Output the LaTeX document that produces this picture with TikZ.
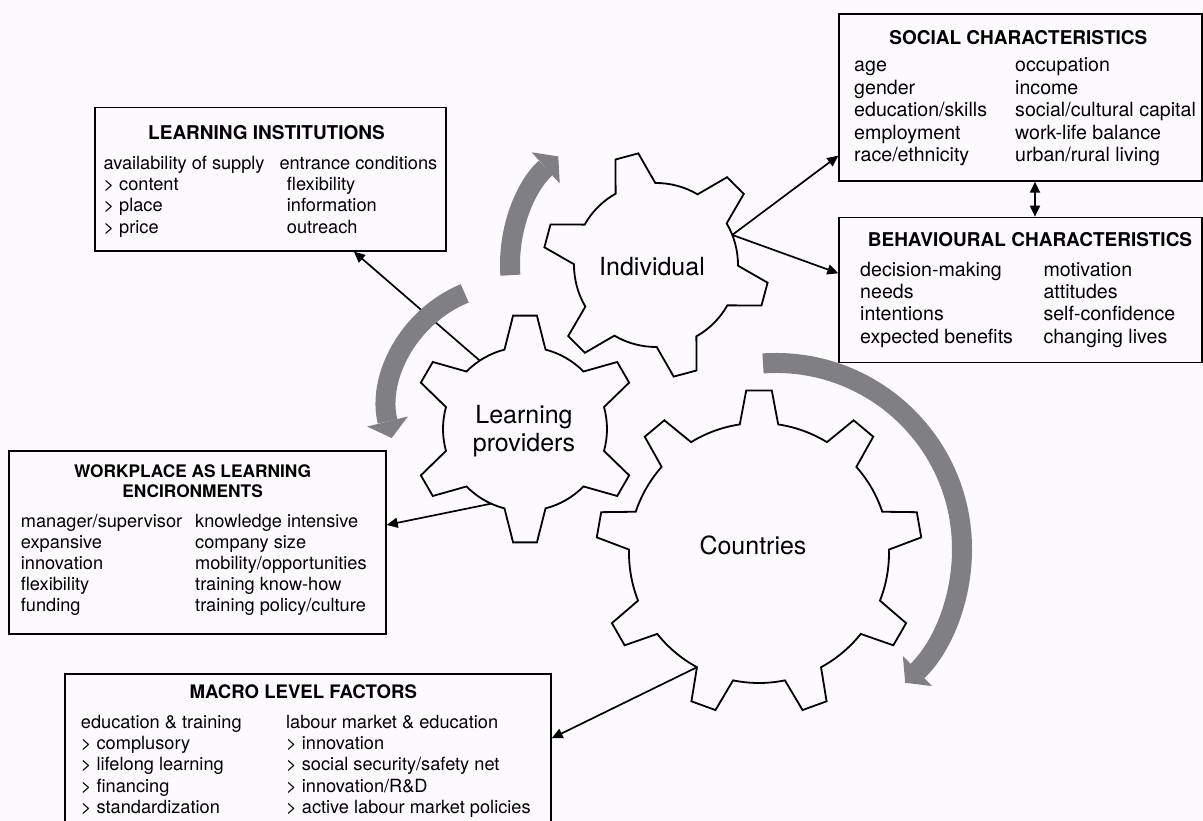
\documentclass[tikz,border=0pt]{standalone}
\usepackage{fontspec}
\setmainfont{TeX Gyre Heros}
\usetikzlibrary{arrows.meta,calc}

\definecolor{bgpink}{RGB}{253,250,253}
\definecolor{arcgray}{RGB}{128,127,131}
\newcommand{\boxfont}{\fontsize{18.2}{21.2}\selectfont}
\newcommand{\charfont}{\fontsize{19.6}{22.4}\selectfont}
\newcommand{\headfont}{\fontsize{19}{22}\selectfont\bfseries}

\begin{document}
\begin{tikzpicture}[x=1pt, y=1pt, >={Triangle[width=10pt, length=11pt]},
  box/.style={draw, line width=1.7pt, fill=bgpink, inner sep=0pt, anchor=north west},
  head/.style={anchor=base, inner sep=0pt, font=\headfont},
  col/.style={anchor=north west, inner sep=0pt, align=left},
  gear/.style={draw, line width=1.8pt, fill=bgpink},
  gearname/.style={inner sep=0pt, align=center, font=\fontsize{25}{28}\selectfont},
  band/.style={draw=arcgray, line width=20pt, -{Triangle[width=42pt, length=17pt, line width=0pt 0]}},
  link/.style={line width=1.7pt, ->}]
  \useasboundingbox (0,0) rectangle (1203,821);
  \fill[bgpink] (0,0) rectangle (1203,821);

  % gear centres and centres of the turning arrows
  \coordinate (ind) at (656,556);
  \coordinate (lp) at (525,392);
  \coordinate (cty) at (759,268);
  \coordinate (lparc) at (512,413);
  \coordinate (ctyarc) at (776,272);

  % learning institutions
  \node[box, minimum width=351pt, minimum height=143.3pt] (li) at (94,714.3) {};
  \node[head] (lihead) at ($(li.north west)+(172.5,-33.3)$) {LEARNING INSTITUTIONS};
  \node[col, font=\boxfont] (lileft) at ($(li.north west)+(9.3,-47.8)$)
    {\strut availability of supply\\> content\\> place\\> price};
  \node[col, font=\boxfont] (liright) at ($(li.north west)+(185.3,-47.8)$)
    {\strut entrance conditions\\\hspace*{7.4pt}flexibility\\\hspace*{7.4pt}information\\\hspace*{7.4pt}outreach};

  % social characteristics
  \node[box, minimum width=362.7pt, minimum height=166.7pt] (soc) at (838.3,807.7) {};
  \node[head] (sochead) at ($(soc.north west)+(180,-31)$) {SOCIAL CHARACTERISTICS};
  \node[col, font=\charfont] (socleft) at ($(soc.north west)+(15.7,-42.7)$)
    {\strut age\\gender\\education/skills\\employment\\race/ethnicity};
  \node[col, font=\charfont] (socright) at ($(soc.north west)+(176.7,-42.7)$)
    {\strut occupation\\income\\social/cultural capital\\work-life balance\\urban/rural living};

  % behavioural characteristics
  \node[box, minimum width=362.7pt, minimum height=145pt] (beh) at (838.3,604.3) {};
  \node[head] (behhead) at ($(beh.north west)+(191.7,-30)$) {BEHAVIOURAL CHARACTERISTICS};
  \node[col, font=\charfont] (behleft) at ($(beh.north west)+(21.7,-43.6)$)
    {\strut decision-making\\needs\\intentions\\expected benefits};
  \node[col, font=\charfont] (behright) at ($(beh.north west)+(205,-43.6)$)
    {\strut motivation\\attitudes\\self-confidence\\changing lives};

  % workplace
  \node[box, minimum width=376.7pt, minimum height=183.3pt] (wp) at (8.3,371) {};
  \node[head, anchor=north, align=center, font=\fontsize{17.3}{17.7}\selectfont\bfseries] (wphead)
    at ($(wp.north west)+(184.3,-14.9)$) {\strut WORKPLACE AS LEARNING\\ENCIRONMENTS};
  \node[col, font=\fontsize{18.2}{21.1}\selectfont] (wpleft) at ($(wp.north west)+(12.4,-62.5)$)
    {\strut manager/supervisor\\expansive\\innovation\\flexibility\\funding};
  \node[col, font=\fontsize{18.2}{21.1}\selectfont] (wpright) at ($(wp.north west)+(186.7,-62.5)$)
    {\strut knowledge intensive\\company size\\mobility/opportunities\\training know-how\\training policy/culture};

  % macro level
  \node[box, minimum width=486pt, minimum height=160pt] (mac) at (64,147.7) {};
  \node[head, font=\fontsize{18.6}{22}\selectfont\bfseries] (machead) at ($(mac.north west)+(239.3,-25)$) {MACRO LEVEL FACTORS};
  \node[col, font=\fontsize{18.2}{21.25}\selectfont] (macleft) at ($(mac.north west)+(16.7,-40.1)$)
    {\strut education \& training\\> complusory\\> lifelong learning\\> financing\\> standardization};
  \node[col, font=\fontsize{18.2}{21.25}\selectfont] (macright) at ($(mac.north west)+(222,-40.1)$)
    {\strut labour market \& education\\> innovation\\> social security/safety net\\> innovation/R\&D\\> active labour market policies};

  % where the arrows leave the gears
  \coordinate (indA) at ($(ind)+(21.5:82)$);
  \coordinate (lpN) at ($(lp)+(123.5:82)$);
  \coordinate (lpS) at ($(lp)+(245.6:82)$);
  \coordinate (ctyS) at ($(cty)+(241.5:130)$);

  \draw[link] (indA) -- ($(soc.south west)+(0,26)$);
  \draw[link] (indA) -- ($(beh.north west)+(0,-56.6)$);
  \draw[link] (lpN) -- (li);
  \draw[link] (lpS) -- ($(wp.north east)+(0,-75)$);
  \draw[link] (ctyS) -- ($(mac.north east)+(0,-65)$);
  \draw[link, <->] ($(soc.south west)+(196.7,0)$) -- ($(beh.north west)+(196.7,0)$);

  % gears
  \begin{scope}[shift={(ind)}]
    \draw[gear] (30.5:82) \foreach \a in {45,105,...,345} {
      -- ({\a-14.5}:82) -- ({\a-6}:113) -- ({\a+6}:113) -- ({\a+14.5}:82)
      arc[start angle=\a+14.5, end angle=\a+45.5, radius=82]} -- cycle;
  \end{scope}
  \begin{scope}[shift={(lp)}]
    \draw[gear] (75.5:82) \foreach \a in {90,150,...,390} {
      -- ({\a-14.5}:82) -- ({\a-6}:114) -- ({\a+6}:114) -- ({\a+14.5}:82)
      arc[start angle=\a+14.5, end angle=\a+45.5, radius=82]} -- cycle;
  \end{scope}
  \begin{scope}[shift={(cty)}]
    \draw[gear] (81.5:130) \foreach \a in {90,130,...,410} {
      -- ({\a-8.5}:130) -- ({\a-4.5}:163) -- ({\a+4.5}:163) -- ({\a+8.5}:130)
      arc[start angle=\a+8.5, end angle=\a+31.5, radius=130]} -- cycle;
  \end{scope}
  \node[gearname] (indname) at ($(ind)+(-4,-1.5)$) {Individual};
  \node[gearname] (lpname) at ($(lp)+(-1,-2)$) {Learning\\providers};
  \node[gearname] (ctyname) at ($(cty)+(-6,8)$) {Countries};

  % turning arrows
  \draw[band] (ind) ++(184:146) arc[start angle=184, end angle=132, radius=146];
  \draw[band] (lparc) ++(112.4:124) arc[start angle=112.4, end angle=194, radius=124];
  \draw[band] (ctyarc) ++(94:186) arc[start angle=94, end angle=-46, radius=186];
\end{tikzpicture}
\end{document}
